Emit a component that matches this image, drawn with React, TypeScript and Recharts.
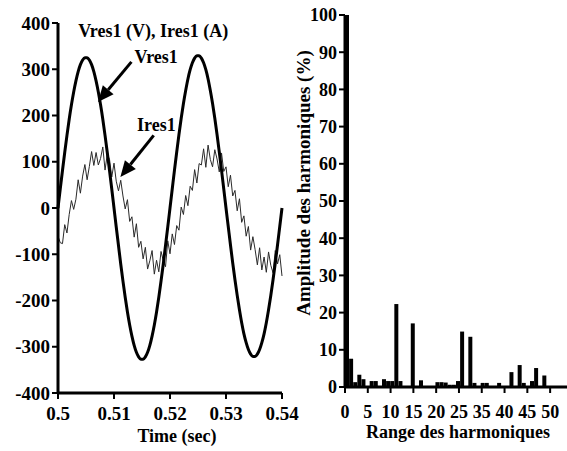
import {
  LineChart,
  Line,
  BarChart,
  Bar,
  XAxis,
  YAxis,
  ReferenceLine,
  ReferenceDot,
} from 'recharts';

// left panel: Vres1 (V) and Ires1 (A), sampled every 0.4 ms from t = 0.5 s
const sampleStep = 0.0004;

const vres1 = [
  0, 41, 81, 120, 157, 192, 223, 251, 275, 295, 310, 320, 325, 325, 320, 310, 295, 275, 251, 223, 192, 157, 120, 81, 41, 0,
  -41, -81, -121, -158, -193, -225, -253, -277, -297, -312, -322, -327, -327, -322, -312, -297, -277, -253, -225, -193, -158, -121, -81, -41, 0,
  41, 82, 121, 159, 194, 226, 254, 279, 299, 314, 324, 329, 329, 324, 314, 299, 279, 254, 226, 194, 159, 121, 82, 41, 0,
  -40, -80, -119, -155, -189, -220, -248, -272, -291, -306, -316, -321, -321, -316, -306, -291, -272, -248, -220, -189, -155, -119, -80, -40, 0,
];

const ires1 = [
  -61, -75, -77, -36, -54, -14, 16, -3, 19, 61,
  32, 69, 94, 61, 90, 122, 92, 120, 93, 107,
  132, 82, 116, 105, 67, 97, 58, 37, 60, 26,
  -2, 18, -29, -19, -63, -34, -85, -72, -110, -85,
  -132, -114, -92, -143, -113, -138, -94, -114, -127, -71,
  -99, -56, -79, -38, -48, 2, -14, 27, 5, 47,
  38, 83, 54, 96, 93, 128, 88, 136, 105, 89,
  126, 106, 78, 119, 79, 89, 46, 71, 26, 38,
  -6, 20, -31, -17, -61, -40, -91, -62, -90, -123,
  -86, -134, -106, -139, -95, -124, -140, -92, -121, -101,
  -147,
];

const timeTicks = [0.5, 0.51, 0.52, 0.53, 0.54];
const timeTickLabels = ['0.5', '0.51', '0.52', '0.53', '0.54'];
const voltTicks = [-400, -300, -200, -100, 0, 100, 200, 300, 400];

// right panel: harmonic spectrum, one bar per slot
const harmonicAmp = [
  100, 7.6, 1.3, 3.3, 2.1, 0, 1.6, 1.6, 0, 2.1,
  1.6, 1.6, 22.3, 1.6, 0, 0, 17.1, 0, 1.8, 0,
  0, 0, 1.3, 1.3, 1.2, 0.6, 0.6, 1.6, 14.9, 0,
  13.5, 1.1, 0, 1.1, 1.1, 0, 0, 1.1, 0, 0,
  4.0, 0, 5.9, 1.1, 0, 1.6, 5.1, 0, 3.1, 0,
  0, 0, 0, 0,
];
const harmTickPos = [0, 5, 10, 15, 20, 25, 30, 35, 40, 45];
const harmTickLabels = ['0', '5', '10', '15', '20', '25', '35', '40', '45', '50'];
const ampTicks = [0, 10, 20, 30, 40, 50, 60, 70, 80, 90, 100];

const waveData = vres1.map((v, i) => ({
  t: +(0.5 + i * sampleStep).toFixed(4),
  vres1: v,
  ires1: ires1[i],
}));

const harmData = harmonicAmp.map((a, k) => ({ slot: k, amp: a }));

const axisLine = { stroke: '#000', strokeWidth: 3 };
const tickLine = { stroke: '#000', strokeWidth: 2 };
const FW = 'bold';

const Arrow = (p: any) => {
  const { x1, y1, x2, y2 } = p;
  const dx = x2 - x1;
  const dy = y2 - y1;
  const len = Math.hypot(dx, dy) || 1;
  const ux = dx / len;
  const uy = dy / len;
  const bx = x2 - ux * 16;
  const by = y2 - uy * 16;
  return (
    <g>
      <line x1={x1} y1={y1} x2={bx} y2={by} stroke='#000' strokeWidth={3} />
      <polygon
        points={`${x2},${y2} ${bx - uy * 7},${by + ux * 7} ${bx + uy * 7},${by - ux * 7}`}
        fill='#000'
      />
    </g>
  );
};

const TimeLabel = (props: any) => {
  const vb = props.viewBox || { x: 58, y: 393, width: 224, height: 58 };
  return (
    <text x={vb.x + vb.width / 2 + 7} y={vb.y + vb.height - 9} textAnchor='middle' fontSize={18} fontWeight={FW} fill='#000'>
      Time (sec)
    </text>
  );
};

const RangeLabel = (props: any) => {
  const vb = props.viewBox || { x: 55, y: 387, width: 222, height: 64 };
  return (
    <text x={vb.x + vb.width / 2 + 2} y={vb.y + vb.height - 13} textAnchor='middle' fontSize={18} fontWeight={FW} fill='#000'>
      Range des harmoniques
    </text>
  );
};

const AmpLabel = (props: any) => {
  const vb = props.viewBox || { x: 0, y: 15, width: 55, height: 372 };
  const x = vb.x + 20;
  const y = vb.y + vb.height / 2 - 18;
  return (
    <text x={x} y={y} transform={`rotate(-90 ${x} ${y})`} textAnchor='middle' fontSize={19} fontWeight={FW} fill='#000'>
      Amplitude des harmoniques (%)
    </text>
  );
};

const noteLabel = (value: string) => ({
  value,
  position: 'center' as const,
  fill: '#000',
  fontSize: 18,
  fontWeight: FW,
});

export default function App() {
  return (
    <div
      style={{
        position: 'absolute',
        left: 0,
        top: 0,
        width: 567,
        height: 451,
        background: '#fff',
        fontFamily: '"Liberation Serif", "Times New Roman", serif',
        overflow: 'hidden',
      }}
    >
      <div style={{ position: 'absolute', left: 0, top: 0 }}>
        <LineChart width={567} height={451} data={waveData} margin={{ top: 23, right: 285, bottom: 0, left: 0 }}>
          <XAxis
            dataKey='t'
            type='number'
            domain={[0.5, 0.54]}
            ticks={timeTicks}
            interval={0}
            tickFormatter={(v, i) => timeTickLabels[i]}
            axisLine={axisLine}
            tickLine={tickLine}
            tickSize={6}
            tickMargin={8}
            tick={{ fill: '#000', fontSize: 19, fontWeight: FW }}
            height={58}
            label={{ content: TimeLabel }}
          />
          <YAxis
            type='number'
            domain={[-400, 400]}
            ticks={voltTicks}
            interval={0}
            axisLine={axisLine}
            tickLine={tickLine}
            tickSize={6}
            tickMargin={2}
            tick={{ fill: '#000', fontSize: 19, fontWeight: FW }}
            width={58}
          />
          <Line
            dataKey='ires1'
            type='linear'
            stroke='#2a2a2a'
            strokeWidth={1}
            dot={false}
            isAnimationActive={false}
          />
          <Line
            dataKey='vres1'
            type='monotone'
            stroke='#000'
            strokeWidth={3}
            dot={false}
            isAnimationActive={false}
          />
          <ReferenceLine segment={[{ x: 0.51311, y: 316 }, { x: 0.50714, y: 229 }]} shape={Arrow} />
          <ReferenceLine segment={[{ x: 0.51709, y: 157 }, { x: 0.51114, y: 67 }]} shape={Arrow} />
          <ReferenceDot x={0.517} y={384} r={0} fill='none' stroke='none' label={noteLabel('Vres1 (V), Ires1 (A)')} />
          <ReferenceDot x={0.51754} y={328} r={0} fill='none' stroke='none' label={noteLabel('Vres1')} />
          <ReferenceDot x={0.51757} y={181} r={0} fill='none' stroke='none' label={noteLabel('Ires1')} />
        </LineChart>
      </div>
      <div style={{ position: 'absolute', left: 290, top: 0 }}>
        <BarChart
          width={277}
          height={451}
          data={harmData}
          margin={{ top: 15, right: 0, bottom: 0, left: 0 }}
          barCategoryGap={0}
          barGap={0}
        >
          <XAxis xAxisId='slot' dataKey='slot' type='category' hide />
          <XAxis
            xAxisId='rank'
            dataKey={() => 0}
            type='number'
            domain={[0, 48.7]}
            allowDataOverflow
            ticks={harmTickPos}
            interval={0}
            tickFormatter={(v, i) => harmTickLabels[i]}
            axisLine={axisLine}
            tickLine={tickLine}
            tickSize={6}
            tickMargin={12}
            tick={{ fill: '#000', fontSize: 18, fontWeight: FW }}
            height={64}
            label={{ content: RangeLabel }}
          />
          <YAxis
            type='number'
            domain={[0, 100]}
            ticks={ampTicks}
            interval={0}
            axisLine={axisLine}
            tickLine={tickLine}
            tickSize={6}
            tickMargin={2}
            tick={{ fill: '#000', fontSize: 18, fontWeight: FW }}
            width={55}
            label={{ content: AmpLabel }}
          />
          <Bar xAxisId='slot' dataKey='amp' fill='#000' isAnimationActive={false} />
        </BarChart>
      </div>
    </div>
  );
}
